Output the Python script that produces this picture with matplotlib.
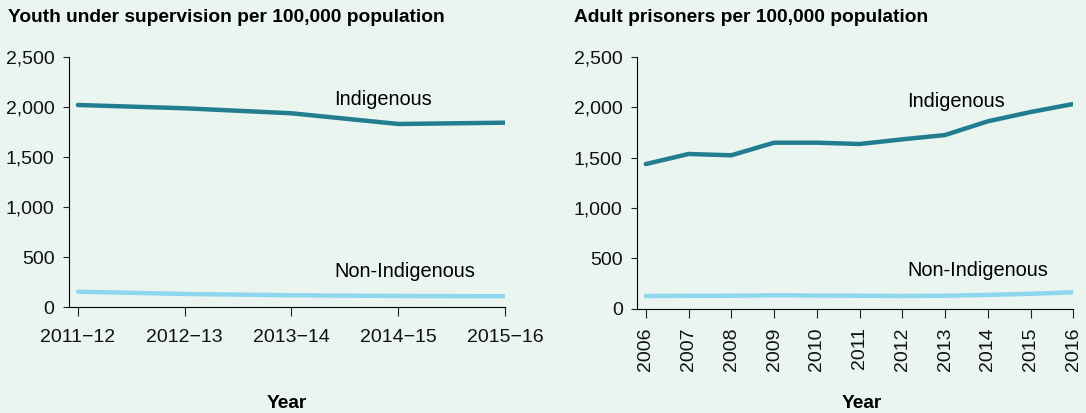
import numpy as np
import matplotlib
matplotlib.use('Agg')
import matplotlib.pyplot as plt
from matplotlib.ticker import FuncFormatter

plt.rcParams['font.family'] = ['Liberation Sans', 'DejaVu Sans']

# Youth under supervision (per 100,000)
youth_years = ['2011\u221212', '2012\u221213', '2013\u221214', '2014\u221215', '2015\u221216']
youth_indig = [2023, 1990, 1940, 1833, 1846]
youth_nonindig = [156, 133, 120, 113, 110]

# Adult prisoners (per 100,000)
adult_years = [2006, 2007, 2008, 2009, 2010, 2011, 2012, 2013, 2014, 2015, 2016]
adult_indig = [1435, 1535, 1522, 1647, 1647, 1634, 1680, 1723, 1859, 1951, 2031]
adult_nonindig = [126, 128, 129, 133, 131, 129, 126, 129, 137, 148, 163]

bg = '#eaf5ef'
dark = '#237d91'
light = '#8fd6ef'

fig = plt.figure(figsize=(10.86, 4.13), dpi=100, facecolor=bg)

ax1 = fig.add_axes([0.0635, 0.2560, 0.4015, 0.6053])
ax2 = fig.add_axes([0.5868, 0.2525, 0.4015, 0.6102])

fmt = FuncFormatter(lambda v, p: '{:,.0f}'.format(v))

def style(ax, xpad):
    ax.set_facecolor(bg)
    for s in ['top', 'right']:
        ax.spines[s].set_visible(False)
    ax.spines['left'].set_linewidth(0.8)
    ax.spines['bottom'].set_linewidth(0.8)
    ax.set_ylim(0, 2500)
    ax.set_yticks(np.arange(0, 2501, 500))
    ax.yaxis.set_major_formatter(fmt)
    ax.tick_params(axis='both', direction='out', width=0.8,
                   labelsize=14, color='#222222', labelcolor='#111111')
    ax.tick_params(axis='y', length=4.5, pad=6)
    ax.tick_params(axis='x', length=6.5, pad=xpad)

# left panel
xs = np.arange(len(youth_years))
ax1.plot(xs, youth_indig, color=dark, lw=3.2, solid_capstyle='round')
ax1.plot(xs, youth_nonindig, color=light, lw=3.2, solid_capstyle='round')
style(ax1, 9)
ax1.set_xlim(-0.084, 4)
ax1.set_xticks(xs)
ax1.set_xticklabels(youth_years)
ax1.text(2.4, 2080, 'Indigenous', fontsize=14.4, va='center')
ax1.text(2.4, 360, 'Non-Indigenous', fontsize=14.4, va='center')

# right panel
ax2.plot(adult_years, adult_indig, color=dark, lw=3.2, solid_capstyle='round')
ax2.plot(adult_years, adult_nonindig, color=light, lw=3.2, solid_capstyle='round')
style(ax2, 7)
ax2.set_xlim(2005.8, 2016)
ax2.set_xticks(adult_years)
ax2.set_xticklabels([str(y) for y in adult_years], rotation=90)
ax2.text(2012.12, 2060, 'Indigenous', fontsize=14.4, va='center')
ax2.text(2012.12, 375, 'Non-Indigenous', fontsize=14.4, va='center')

fig.text(0.007, 0.958, 'Youth under supervision per 100,000 population',
         fontsize=13.8, fontweight='bold', va='center')
fig.text(0.529, 0.958, 'Adult prisoners per 100,000 population',
         fontsize=13.8, fontweight='bold', va='center')
fig.text(0.264, 0.024, 'Year', fontsize=13.8, fontweight='bold', ha='center', va='center')
fig.text(0.794, 0.024, 'Year', fontsize=13.8, fontweight='bold', ha='center', va='center')

fig.savefig('out.png', dpi=100, facecolor=bg)
